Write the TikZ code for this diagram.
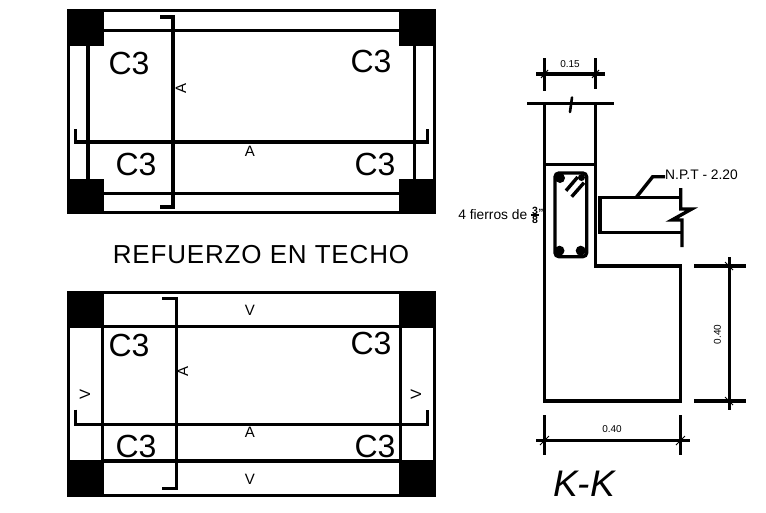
\documentclass[tikz,border=0pt]{standalone}
\usepackage{fontspec}
\setmainfont{Liberation Sans}
\begin{document}
\begin{tikzpicture}[x=1pt,y=-1pt,line join=miter,
  wall/.style={line width=3.4pt},
  tick/.style={line width=1pt},
  column/.style={fill=black},
  big/.style={inner sep=0pt,font=\fontsize{32}{32}\selectfont},
  cut/.style={inner sep=0pt,font=\fontsize{15}{15}\selectfont},
  dim/.style={inner sep=0pt,font=\fontsize{10}{10}\selectfont},
  frac/.style={inner sep=0pt,font=\fontsize{10.5}{11}\selectfont\bfseries}]
  \useasboundingbox (0,0) rectangle (766,512);
% plan de arriba
  \draw[wall] (68.5,10.5) rectangle (434.5,212.5);
  \foreach \x in {67,399} {
    \fill[column] (\x,9) rectangle ++(37,37);
    \fill[column] (\x,179) rectangle ++(37,35);
  }
  \draw[wall] (104,30.5) -- (399,30.5) (104,193.5) -- (399,193.5);
  \draw[wall] (88,46) -- (88,179) (414.5,46) -- (414.5,179);
  \draw[wall] (160,17) -- (173,17) -- (173,207) -- (160,207);
  \draw[wall] (75.5,129) -- (75.5,142) -- (427.5,142) -- (427.5,129);
  \node[big] (c1) at (129,63) {C3};
  \node[big] (c2) at (371,61) {C3};
  \node[big] (c3) at (136,164) {C3};
  \node[big] (c4) at (375,164) {C3};
  \node[cut] (a1) at (250,151) {A};
  \node[cut,rotate=90] (a2) at (181,88) {A};
  \node[inner sep=0pt,font=\fontsize{26}{26}\selectfont] (title) at (261,255) {\addfontfeature{LetterSpace=3.2}REFUERZO EN TECHO};
% plan de abajo
  \draw[wall] (68.5,292.5) rectangle (434.5,495.5);
  \foreach \x in {67,399} {
    \fill[column] (\x,291) rectangle ++(37,37);
    \fill[column] (\x,460) rectangle ++(37,37);
  }
  \draw[wall] (102.5,326.5) rectangle (400.5,461);
  \draw[wall] (162,298.5) -- (176.5,298.5) -- (176.5,488.5) -- (162,488.5);
  \draw[wall] (75.5,409.5) -- (75.5,424.5) -- (427.5,424.5) -- (427.5,409.5);
  \node[big] (c5) at (129,345) {C3};
  \node[big] (c6) at (371,343) {C3};
  \node[big] (c7) at (136,446) {C3};
  \node[big] (c8) at (375,446) {C3};
  \node[cut] (a3) at (250,432) {A};
  \node[cut,rotate=90] (a4) at (183,371) {A};
  \node[cut] (v1) at (250,310) {V};
  \node[cut] (v2) at (250,479) {V};
  \node[cut,rotate=90] (v3) at (85,394) {V};
  \node[cut,rotate=90] (v4) at (416,394) {V};
% corte K-K
  \draw[wall] (544.3,103) -- (544.3,401) -- (680.7,401) -- (680.7,266) -- (595.7,266) -- (595.7,103);
  \draw[wall] (544.3,164.3) -- (595.7,164.3);
  \draw[wall] (527,103.3) -- (613.7,103.3);
  \draw[line width=2.6pt,line cap=round] (572,97.5) -- (570,112);
  \draw[wall,rounded corners=4pt] (555,173) rectangle (586.7,256.7);
  \fill (560,178) circle (5) (581.5,177.5) circle (3.5) (559.5,250.7) circle (5) (580.7,250.7) circle (5);
  \draw[wall] (566,190.7) -- (577.7,177) (571.7,196.7) -- (584,182.7);
  \draw[wall] (680.7,197.7) -- (600,197.7) -- (600,232.3) -- (681,232.3);
  \draw[wall] (680.7,188) -- (680.7,209) -- (691.7,209) -- (672,220) -- (682,220) -- (682,247);
  \draw[wall] (636,197.7) -- (652.7,176.7) -- (665,176.7);
  \node[inner sep=0pt,anchor=west,font=\fontsize{13.8}{14}\selectfont] (npt) at (665,175) {N.P.T - 2.20};
  \node[inner sep=0pt,anchor=east,font=\fontsize{13.8}{14}\selectfont] (fierros) at (527.5,215) {4 fierros de};
  \node[frac] (tres) at (535,210.5) {3};
  \node[frac] (ocho) at (535,219.5) {8};
  \node[frac] (inch) at (541,213) {"};
  \draw[line width=2pt] (531,215) -- (539,215);
% cotas
  \draw[wall] (544.3,58) -- (544.3,91) (595.7,58) -- (595.7,89);
  \draw[wall] (536,74) -- (604.7,74);
  \draw[tick] (541,78) -- (548,70) (592,78) -- (599,70);
  \node[dim] (d1) at (570,64.5) {0.15};
  \draw[wall] (694.3,266) -- (745.7,266) (694.3,401) -- (745.7,401);
  \draw[wall] (729.3,257.3) -- (729.3,410);
  \draw[tick] (725,262) -- (733,270) (725,397) -- (733,405);
  \node[dim,rotate=90] (d2) at (717.3,334.3) {0.40};
  \draw[wall] (544.3,415) -- (544.3,455) (680.7,415) -- (680.7,455);
  \draw[wall] (536,440.7) -- (690,440.7);
  \draw[tick] (540,445) -- (549,436) (676,445) -- (685,436);
  \node[dim] (d3) at (612,429.5) {0.40};
  \node[inner sep=0pt,font=\fontsize{37}{37}\selectfont\itshape] (kk) at (584,484) {K-K};
\end{tikzpicture}
\end{document}
